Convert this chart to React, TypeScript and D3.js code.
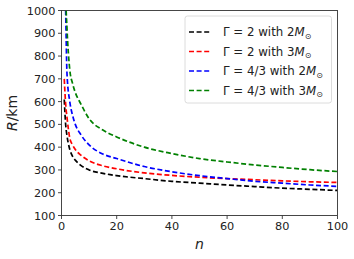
// Radius vs n for two polytropic indices and two masses
import React from 'react';
import * as d3 from 'd3';

const nValues = [1, 1.5, 2, 3, 4, 5, 7, 10, 15, 20, 30, 40, 50, 60, 70, 80, 90, 100];
const gamma2M2 = [609, 500, 450, 390, 360, 343, 320, 300, 285, 275, 262, 250, 242, 234, 227, 220, 215, 210];
const gamma2M3 = [700, 590, 530, 440, 410, 390, 365, 340, 318, 305, 287, 276, 268, 262, 257, 252, 248, 245];
const gamma43M2 = [1300, 1000, 720, 600, 540, 500, 455, 410, 370, 350, 315, 292, 275, 262, 250, 242, 234, 228];
const gamma43M3 = [1500, 1080, 920, 740, 680, 640, 590, 525, 475, 445, 400, 372, 350, 335, 322, 311, 301, 293];

const seriesGammas = ['2', '2', '4/3', '4/3'];
const seriesMasses = ['2', '3', '2', '3'];
const seriesColors = ['#000000', '#ff0000', '#0000ff', '#008000'];
const seriesValues = [gamma2M2, gamma2M3, gamma43M2, gamma43M3];

const xTicks = [0, 20, 40, 60, 80, 100];
const yTicks = [100, 200, 300, 400, 500, 600, 700, 800, 900, 1000];

export default function App() {
  const width = 354, height = 259;
  const left = 61.5, right = 337.5, top = 10.5, bottom = 215.5;

  const x = d3.scaleLinear().domain([0, 100]).range([left, right]);
  const y = d3.scaleLinear().domain([100, 1000]).range([bottom, top]);

  const lineFn = d3.line<[number, number]>()
    .x(d => x(d[0]))
    .y(d => y(d[1]))
    .curve(d3.curveMonotoneX);

  const font = 'DejaVu Sans, sans-serif';
  const axisColor = '#333';

  return (
    <svg width={width} height={height} style={{ position: 'absolute', left: 0, top: 0, background: 'white' }}>
      <defs>
        <clipPath id="plotArea">
          <rect x={left} y={top} width={right - left} height={bottom - top} />
        </clipPath>
      </defs>

      <g clipPath="url(#plotArea)">
        {seriesValues.map((vals, i) => (
          <path key={i}
            d={lineFn(nValues.map((n, j) => [n, vals[j]] as [number, number])) || ''}
            fill="none" stroke={seriesColors[i]} strokeWidth={1.7}
            strokeDasharray="5,2.6" />
        ))}
      </g>

      <rect x={left} y={top} width={right - left} height={bottom - top}
        fill="none" stroke={axisColor} strokeWidth={0.9} />

      {xTicks.map(t => (
        <g key={'x' + t}>
          <line x1={x(t)} x2={x(t)} y1={bottom} y2={bottom + 3.5} stroke={axisColor} strokeWidth={0.9} />
          <text x={x(t)} y={bottom + 14} textAnchor="middle" fontFamily={font} fontSize={11.3} fill="#222">{t}</text>
        </g>
      ))}
      {yTicks.map(t => (
        <g key={'y' + t}>
          <line x1={left - 3.5} x2={left} y1={y(t)} y2={y(t)} stroke={axisColor} strokeWidth={0.9} />
          <text x={left - 6} y={y(t) + 4} textAnchor="end" fontFamily={font} fontSize={11.3} fill="#222">{t}</text>
        </g>
      ))}

      <text x={(left + right) / 2} y={249} textAnchor="middle" fontFamily={font} fontSize={14} fontStyle="italic" fill="#222">n</text>
      <text transform={`translate(17,${(top + bottom) / 2}) rotate(-90)`} textAnchor="middle" fontFamily={font} fontSize={14} fill="#222">
        <tspan fontStyle="italic">R</tspan>/km
      </text>

      <g>
        <rect x={185} y={16} width={146.5} height={87} rx={2.5} fill="white" fillOpacity={0.8} stroke="#d8d8d8" strokeWidth={0.9} />
        {seriesColors.map((c, i) => {
          const ry = 32 + i * 19.5;
          return (
            <g key={'leg' + i}>
              <line x1={189} x2={211} y1={ry} y2={ry} stroke={c} strokeWidth={1.7} strokeDasharray="5,2.6" />
              <text x={223} y={ry + 4} fontFamily={font} fontSize={11.8} fill="#222">
                {'Γ = ' + seriesGammas[i] + ' with ' + seriesMasses[i]}
                <tspan fontStyle="italic">M</tspan>
                <tspan fontSize={8} dy={2.5}>⊙</tspan>
              </text>
            </g>
          );
        })}
      </g>
    </svg>
  );
}
